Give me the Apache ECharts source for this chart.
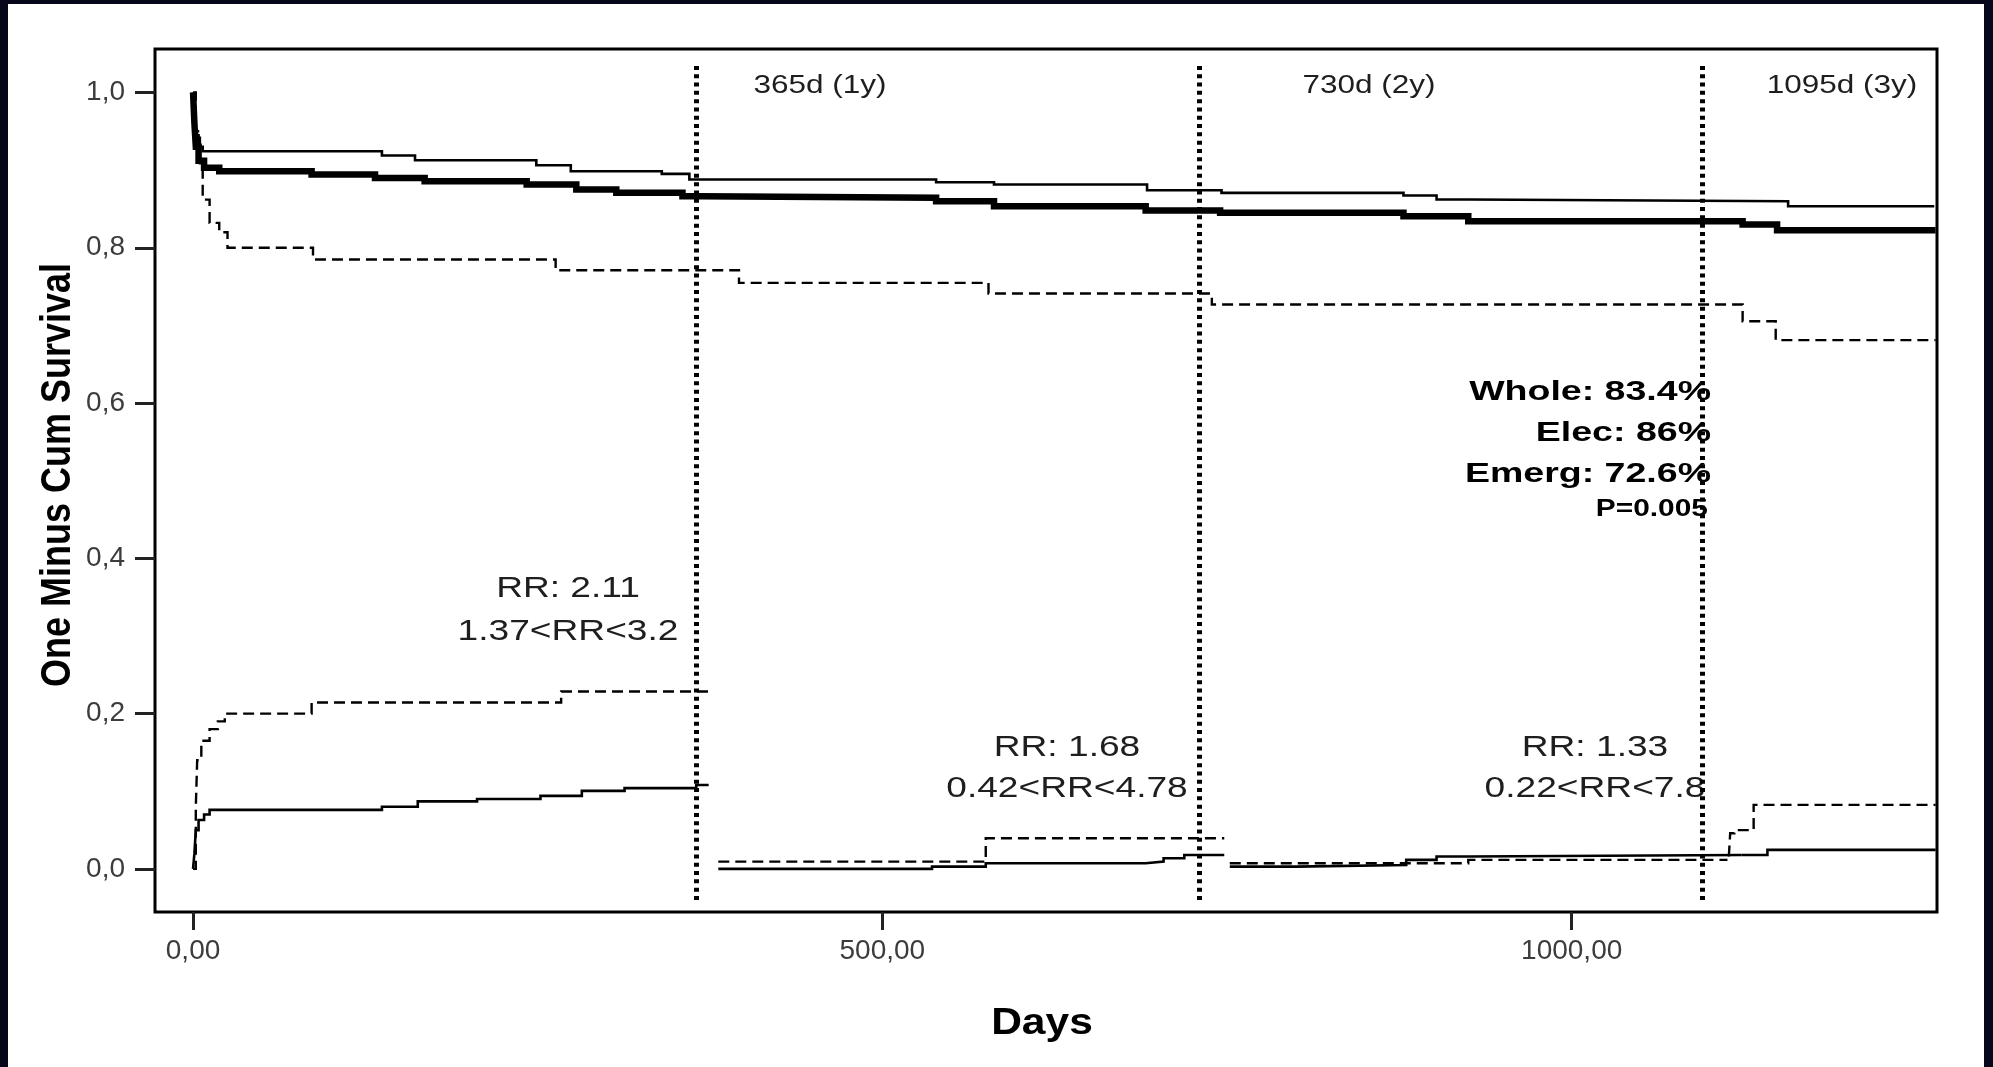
<!DOCTYPE html>
<html>
<head>
<meta charset="utf-8">
<title>One Minus Cum Survival</title>
<script src="https://cdn.jsdelivr.net/npm/echarts@6/dist/echarts.min.js"></script>
<style>
  html, body { margin: 0; padding: 0; background: #ffffff; }
  #chart { position: absolute; left: 0; top: 0; width: 1993px; height: 1067px; }
  .frame { position: absolute; background: #07071c; }
</style>
</head>
<body>
<div id="chart"></div>
<div class="frame" style="left:0;top:0;width:8px;height:1067px"></div>
<div class="frame" style="left:0;top:0;width:1993px;height:4px"></div>
<div class="frame" style="right:0;top:0;width:9px;height:1067px"></div>
<script>
// Axis ticks
const xTicks = [0, 500, 1000];
const yTicks = [0, 0.2, 0.4, 0.6, 0.8, 1.0];

// Landmark days (vertical dotted lines) and their captions
const landmarks = [365, 730, 1095];
const landmarkLabels = ['365d (1y)', '730d (2y)', '1095d (3y)'];

// Overall curves: [day, value], each value holds until the next point
const whole = [
  [0, 1.0], [1, 0.96], [2, 0.93], [4, 0.912], [8, 0.903], [19, 0.8986], [86, 0.8943],
  [132, 0.890], [168, 0.8857], [242, 0.8814], [278, 0.875], [307, 0.8707], [355, 0.8664],
  [368, 0.8643], [539, 0.860], [581, 0.8535], [691, 0.848], [745, 0.845], [878, 0.8406],
  [925, 0.8342], [1124, 0.830], [1149, 0.8225], [1264, 0.8225]
];
const elective = [
  [0, 1.0], [1, 0.97], [2, 0.945], [4, 0.93], [7, 0.9244], [137, 0.9188], [161, 0.9127],
  [249, 0.9063], [274, 0.8986], [340, 0.8952], [360, 0.8879], [539, 0.8844], [581, 0.8814],
  [692, 0.8741], [746, 0.8707], [878, 0.8673], [902, 0.8621], [926, 0.860], [1157, 0.8535],
  [1263, 0.8535]
];
const emergency = [
  [0, 1.0], [2, 0.95], [5, 0.905], [7, 0.862], [12, 0.832], [19, 0.82], [25, 0.80],
  [87, 0.7848], [263, 0.771], [396, 0.7548], [577, 0.741], [739, 0.727], [1124, 0.7053],
  [1148, 0.681], [1264, 0.681]
];

// Yearly conditional curves (solid: elective, dashed: emergency)
const electiveY1 = [
  [0, 0], [1, 0.02], [2, 0.05], [4, 0.063], [8, 0.07], [12, 0.076], [137, 0.080], [163, 0.087],
  [206, 0.090], [252, 0.094], [282, 0.1005], [313, 0.104], [365, 0.108], [374, 0.108]
];
const emergencyY1 = [
  [0, 0], [2, 0.08], [3, 0.14], [6, 0.165], [12, 0.18], [18, 0.19], [23, 0.2], [86, 0.2143],
  [267, 0.2285], [374, 0.2285]
];
const electiveY2 = [
  [381, 0], [536, 0.003], [575, 0.0073], [691, 0.0094], [704, 0.0138], [719, 0.018], [748, 0.018]
];
const emergencyY2 = [
  [381, 0.0094], [575, 0.0395], [748, 0.0395]
];
const electiveY3 = [
  [752, 0.003], [800, 0.005], [880, 0.0116], [902, 0.0159], [925, 0.018], [1123, 0.018]
];
const emergencyY3 = [
  [752, 0.0073], [925, 0.0116], [1113, 0.0116]
];
const electiveY4 = [
  [1123, 0.018], [1142, 0.0245], [1264, 0.0245]
];
const emergencyY4 = [
  [1114, 0.016], [1115, 0.046], [1118, 0.05], [1132, 0.0825], [1264, 0.0825]
];

// Relative risk captions per year, and the 3-year summary
const rrTexts = [['RR: 2.11', '1.37<RR<3.2'], ['RR: 1.68', '0.42<RR<4.78'], ['RR: 1.33', '0.22<RR<7.8']];
const summaryTexts = ['Whole: 83.4%', 'Elec: 86%', 'Emerg: 72.6%'];
const pText = 'P=0.005';

const FONT = "'Liberation Sans', Arial, Helvetica, sans-serif";

function stepSeries(name, data, width, dash, z) {
  return {
    type: 'line', name: name, data: data, step: 'end',
    symbol: 'none', showSymbol: false, silent: true, animation: false, z: z || 2,
    lineStyle: { color: '#000', width: width, type: dash || 'solid', cap: 'butt', join: 'miter' }
  };
}

const dashPattern = [11, 6];

const series = [
  stepSeries('Whole', whole, 6.5, null, 3),
  stepSeries('Elec', elective, 2.6),
  stepSeries('Emerg', emergency, 2.4, dashPattern),
  stepSeries('Elec 1y', electiveY1, 2.6),
  stepSeries('Emerg 1y', emergencyY1, 2.4, dashPattern),
  stepSeries('Elec 2y', electiveY2, 2.6),
  stepSeries('Emerg 2y', emergencyY2, 2.4, dashPattern),
  stepSeries('Elec 3y', electiveY3, 2.6),
  stepSeries('Emerg 3y', emergencyY3, 2.4, dashPattern),
  stepSeries('Elec post 3y', electiveY4, 2.6),
  stepSeries('Emerg post 3y', emergencyY4, 2.4, dashPattern)
];

// Dotted landmark lines
series.push({
  type: 'line', name: 'landmarks', data: [], silent: true, animation: false, z: 5,
  markLine: {
    silent: true, animation: false, symbol: ['none', 'none'],
    label: { show: false },
    lineStyle: { color: '#000', width: 5, type: [4, 4.3], cap: 'butt' },
    emphasis: { disabled: true },
    data: landmarks.map(d => [{ coord: [d, -0.04] }, { coord: [d, 1.039] }])
  }
});

// Text annotations
const graphic = [];
function addText(x, y, text, font, opts) {
  graphic.push(Object.assign({ type: 'text', x: x, y: y, silent: true,
    style: { text: text, font: font, fill: (opts && opts.fill) || '#1e1e1e',
             align: (opts && opts.align) || 'center', verticalAlign: 'middle' } },
    (opts && opts.el) || {}));
}

const landmarkLabelX = [820, 1369, 1842];
landmarkLabels.forEach((t, i) => {
  addText(landmarkLabelX[i], 86, t, '25px ' + FONT, { el: { scaleX: 1.26 } });
});

const rrX = [568, 1067, 1595];
const rrY = [[589, 632], [748, 789], [748, 789]];
rrTexts.forEach((pair, i) => {
  addText(rrX[i], rrY[i][0], pair[0], '29px ' + FONT, { el: { scaleX: 1.28 } });
  addText(rrX[i], rrY[i][1], pair[1], '29px ' + FONT, { el: { scaleX: 1.28 } });
});

const summaryY = [392, 433, 474];
summaryTexts.forEach((t, i) => {
  addText(1711, summaryY[i], t, 'bold 28px ' + FONT,
    { fill: '#000', align: 'right', el: { scaleX: 1.34, originX: 0 } });
});
addText(1708, 510, pText, 'bold 23px ' + FONT, { fill: '#000', align: 'right', el: { scaleX: 1.3 } });

// Axis titles
addText(1042, 1024, 'Days', 'bold 37px ' + FONT, { fill: '#000', el: { scaleX: 1.15 } });
addText(58, 475, 'One Minus Cum Survival', 'bold 36px ' + FONT,
  { fill: '#000', el: { rotation: Math.PI / 2, scaleY: 1.18 } });

const chart = echarts.init(document.getElementById('chart'), null, { renderer: 'canvas' });
chart.setOption({
  backgroundColor: '#ffffff',
  animation: false,
  grid: {
    left: 155, right: 56, top: 49, bottom: 155,
    show: true, borderColor: '#000', borderWidth: 3, backgroundColor: 'transparent'
  },
  xAxis: {
    type: 'value', min: -27.6, max: 1265,
    splitLine: { show: false },
    axisLine: { show: false, onZero: false },
    axisTick: { show: true, customValues: xTicks, length: 18, lineStyle: { color: '#222', width: 3 } },
    axisLabel: {
      customValues: xTicks, margin: 25, color: '#3c3c3c', fontSize: 28, fontFamily: FONT,
      formatter: v => v.toFixed(2).replace('.', ',')
    }
  },
  yAxis: {
    type: 'value', min: -0.0555, max: 1.056,
    splitLine: { show: false },
    axisLine: { show: false, onZero: false },
    axisTick: { show: true, customValues: yTicks, length: 20, lineStyle: { color: '#222', width: 3 } },
    axisLabel: {
      customValues: yTicks, margin: 30, color: '#3c3c3c', fontSize: 28, fontFamily: FONT,
      formatter: v => v.toFixed(1).replace('.', ',')
    }
  },
  series: series,
  graphic: graphic
});
</script>
</body>
</html>
